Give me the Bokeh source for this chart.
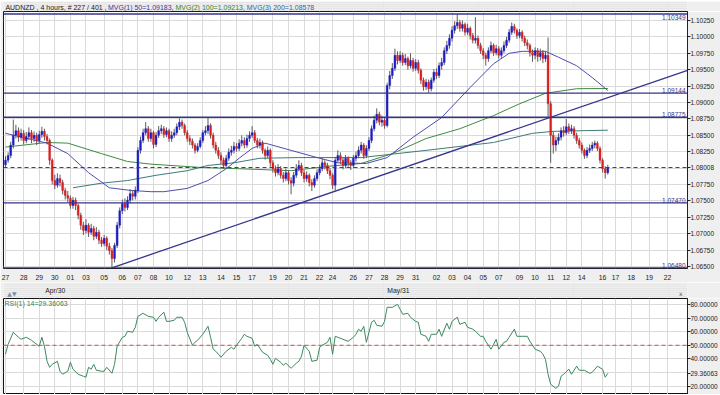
from bokeh.plotting import figure
from bokeh.layouts import column
from bokeh.models import Range1d, FixedTicker, NumeralTickFormatter, Label, Span, ColumnDataSource
from bokeh.core.properties import value
from bokeh.embed import file_html
from bokeh.resources import INLINE

# ---------------- data ----------------
first_open = 1.0805
closes = [
    1.0812, 1.0819, 1.0835, 1.0850, 1.0857, 1.0847, 1.0853, 1.0842, 1.0848, 1.0854,   # 0
    1.0845, 1.0850, 1.0842, 1.0851, 1.0856, 1.0848, 1.0842, 1.0812, 1.0781, 1.0774,   # 10
    1.0784, 1.0778, 1.0766, 1.0758, 1.0754, 1.0743, 1.0751, 1.0743, 1.0728, 1.0713,   # 20
    1.0705, 1.0713, 1.0702, 1.0708, 1.0696, 1.0702, 1.0690, 1.0685, 1.0693, 1.0681,   # 30
    1.0674, 1.0662, 1.0682, 1.0713, 1.0735, 1.0746, 1.0740, 1.0751, 1.0761, 1.0757,   # 40
    1.0766, 1.0827, 1.0842, 1.0854, 1.0860, 1.0845, 1.0854, 1.0836, 1.0850, 1.0857,   # 50
    1.0860, 1.0851, 1.0857, 1.0845, 1.0850, 1.0854, 1.0863, 1.0870, 1.0865, 1.0854,   # 60
    1.0845, 1.0841, 1.0835, 1.0827, 1.0833, 1.0842, 1.0854, 1.0857, 1.0865, 1.0850,   # 70
    1.0835, 1.0827, 1.0819, 1.0812, 1.0804, 1.0815, 1.0824, 1.0827, 1.0833, 1.0830,   # 80
    1.0838, 1.0842, 1.0835, 1.0845, 1.0850, 1.0854, 1.0842, 1.0835, 1.0839, 1.0827,   # 90
    1.0819, 1.0827, 1.0808, 1.0799, 1.0793, 1.0799, 1.0789, 1.0784, 1.0793, 1.0781,   # 100
    1.0777, 1.0789, 1.0799, 1.0804, 1.0793, 1.0784, 1.0789, 1.0778, 1.0774, 1.0784,   # 110
    1.0793, 1.0799, 1.0808, 1.0804, 1.0796, 1.0789, 1.0774, 1.0812, 1.0819, 1.0812,   # 120
    1.0804, 1.0815, 1.0808, 1.0804, 1.0815, 1.0819, 1.0827, 1.0835, 1.0819, 1.0830,   # 130
    1.0842, 1.0860, 1.0873, 1.0882, 1.0870, 1.0873, 1.0865, 1.0926, 1.0941, 1.0952,   # 140
    1.0972, 1.0964, 1.0972, 1.0961, 1.0967, 1.0956, 1.0964, 1.0952, 1.0961, 1.0949,   # 150
    1.0934, 1.0924, 1.0931, 1.0921, 1.0934, 1.0946, 1.0941, 1.0956, 1.0961, 1.0979,   # 160
    1.0987, 1.0998, 1.1010, 1.1017, 1.1022, 1.1013, 1.1019, 1.1007, 1.1013, 1.1002,   # 170
    1.0995, 1.0998, 1.0987, 1.0979, 1.0972, 1.0967, 1.0979, 1.0987, 1.0976, 1.0982,   # 180
    1.0972, 1.0979, 1.0987, 1.0995, 1.1007, 1.1016, 1.1010, 1.1002, 1.1007, 1.0998,   # 190
    1.0991, 1.0987, 1.0976, 1.0972, 1.0979, 1.0970, 1.0976, 1.0967, 1.0972, 1.0898,   # 200
    1.0850, 1.0835, 1.0842, 1.0847, 1.0857, 1.0854, 1.0863, 1.0857, 1.0860, 1.0850,   # 210
    1.0842, 1.0835, 1.0827, 1.0819, 1.0827, 1.0830, 1.0835, 1.0838, 1.0830, 1.0812,   # 220
    1.0799, 1.0793, 1.08008,                                                          # 230
]
highs = [
    1.0818, 1.0824, 1.0840, 1.0874, 1.0866, 1.0862, 1.0860, 1.0858, 1.0855, 1.0862,   # 0
    1.0858, 1.0856, 1.0854, 1.0857, 1.0863, 1.0860, 1.0852, 1.0845, 1.0815, 1.0790,   # 10
    1.0792, 1.0790, 1.0782, 1.0770, 1.0765, 1.0758, 1.0756, 1.0755, 1.0746, 1.0732,   # 20
    1.0718, 1.0722, 1.0716, 1.0715, 1.0712, 1.0710, 1.0706, 1.0695, 1.0698, 1.0696,   # 30
    1.0686, 1.0678, 1.0686, 1.0718, 1.0740, 1.0752, 1.0754, 1.0757, 1.0768, 1.0766,   # 40
    1.0772, 1.0832, 1.0848, 1.0860, 1.0870, 1.0864, 1.0860, 1.0857, 1.0855, 1.0864,   # 50
    1.0866, 1.0864, 1.0862, 1.0860, 1.0856, 1.0860, 1.0868, 1.0876, 1.0874, 1.0868,   # 60
    1.0858, 1.0850, 1.0845, 1.0838, 1.0838, 1.0847, 1.0858, 1.0864, 1.0877, 1.0868,   # 70
    1.0854, 1.0840, 1.0832, 1.0824, 1.0816, 1.0820, 1.0830, 1.0834, 1.0840, 1.0838,   # 80
    1.0844, 1.0850, 1.0847, 1.0851, 1.0856, 1.0864, 1.0858, 1.0846, 1.0845, 1.0842,   # 90
    1.0830, 1.0833, 1.0830, 1.0812, 1.0804, 1.0806, 1.0803, 1.0794, 1.0799, 1.0796,   # 100
    1.0786, 1.0794, 1.0806, 1.0812, 1.0808, 1.0797, 1.0795, 1.0792, 1.0783, 1.0789,   # 110
    1.0798, 1.0805, 1.0815, 1.0812, 1.0808, 1.0800, 1.0792, 1.0817, 1.0827, 1.0824,   # 120
    1.0816, 1.0820, 1.0818, 1.0812, 1.0820, 1.0825, 1.0833, 1.0840, 1.0838, 1.0835,   # 130
    1.0847, 1.0865, 1.0880, 1.0891, 1.0886, 1.0880, 1.0877, 1.0930, 1.0948, 1.0960,   # 140
    1.0982, 1.0978, 1.0978, 1.0976, 1.0974, 1.0970, 1.0975, 1.0968, 1.0966, 1.0965,   # 150
    1.0952, 1.0938, 1.0936, 1.0935, 1.0938, 1.0951, 1.0952, 1.0961, 1.0968, 1.0984,   # 160
    1.0994, 1.1004, 1.1016, 1.1024, 1.10349, 1.1026, 1.1025, 1.1022, 1.1020, 1.1016,  # 170
    1.1006, 1.1030, 1.1002, 1.0991, 1.0983, 1.0976, 1.0984, 1.0993, 1.0990, 1.0988,   # 180
    1.0986, 1.0984, 1.0993, 1.1000, 1.1012, 1.1022, 1.1020, 1.1013, 1.1012, 1.1010,   # 190
    1.1002, 1.0996, 1.0990, 1.0981, 1.0984, 1.0983, 1.0982, 1.0980, 1.0978, 1.0999,   # 200
    1.0902, 1.0856, 1.0848, 1.0853, 1.0862, 1.0864, 1.0875, 1.0868, 1.0866, 1.0864,   # 210
    1.0854, 1.0846, 1.0839, 1.0830, 1.0832, 1.0836, 1.0840, 1.0842, 1.0841, 1.0833,   # 220
    1.0815, 1.0803, 1.0805,                                                           # 230
]
lows = [
    1.0800, 1.0808, 1.0815, 1.0830, 1.0845, 1.0840, 1.0842, 1.0836, 1.0838, 1.0843,   # 0
    1.0838, 1.0840, 1.0835, 1.0838, 1.0846, 1.0842, 1.0836, 1.0805, 1.0775, 1.0768,   # 10
    1.0770, 1.0772, 1.0760, 1.0752, 1.0748, 1.0738, 1.0738, 1.0736, 1.0722, 1.0706,   # 20
    1.0698, 1.0700, 1.0695, 1.0698, 1.0690, 1.0692, 1.0684, 1.0680, 1.0681, 1.0675,   # 30
    1.0668, 1.0648, 1.0656, 1.0678, 1.0708, 1.0730, 1.0734, 1.0736, 1.0746, 1.0751,   # 40
    1.0752, 1.0762, 1.0822, 1.0838, 1.0850, 1.0840, 1.0840, 1.0830, 1.0832, 1.0846,   # 50
    1.0852, 1.0846, 1.0847, 1.0840, 1.0840, 1.0846, 1.0850, 1.0858, 1.0860, 1.0850,   # 60
    1.0840, 1.0835, 1.0830, 1.0822, 1.0824, 1.0830, 1.0838, 1.0850, 1.0852, 1.0845,   # 70
    1.0830, 1.0822, 1.0814, 1.0806, 1.0799, 1.0800, 1.0811, 1.0819, 1.0822, 1.0825,   # 80
    1.0826, 1.0833, 1.0830, 1.0831, 1.0840, 1.0846, 1.0838, 1.0830, 1.0830, 1.0822,   # 90
    1.0813, 1.0815, 1.0802, 1.0793, 1.0787, 1.0789, 1.0784, 1.0778, 1.0780, 1.0775,   # 100
    1.0760, 1.0772, 1.0785, 1.0795, 1.0788, 1.0778, 1.0779, 1.0772, 1.0765, 1.0770,   # 110
    1.0780, 1.0789, 1.0795, 1.0798, 1.0791, 1.0783, 1.0768, 1.0765, 1.0808, 1.0806,   # 120
    1.0798, 1.0800, 1.0802, 1.0797, 1.0800, 1.0810, 1.0815, 1.0822, 1.0814, 1.0815,   # 130
    1.0826, 1.0838, 1.0856, 1.0868, 1.0865, 1.0863, 1.0860, 1.0862, 1.0920, 1.0936,   # 140
    1.0948, 1.0958, 1.0960, 1.0956, 1.0957, 1.0950, 1.0952, 1.0947, 1.0948, 1.0944,   # 150
    1.0928, 1.0918, 1.0919, 1.0915, 1.0917, 1.0930, 1.0936, 1.0937, 1.0950, 1.0957,   # 160
    1.0974, 1.0982, 1.0993, 1.1005, 1.1012, 1.1008, 1.1008, 1.1002, 1.1003, 1.0996,   # 170
    1.0990, 1.0990, 1.0982, 1.0974, 1.0966, 1.0956, 1.0962, 1.0975, 1.0971, 1.0972,   # 180
    1.0967, 1.0968, 1.0975, 1.0983, 1.0991, 1.1003, 1.1005, 1.0997, 1.0998, 1.0993,   # 190
    1.0986, 1.0981, 1.0970, 1.0962, 1.0966, 1.0962, 1.0964, 1.0960, 1.0962, 1.0878,   # 200
    1.0808, 1.0822, 1.0826, 1.0836, 1.0842, 1.0848, 1.0850, 1.0852, 1.0852, 1.0845,   # 210
    1.0837, 1.0830, 1.0822, 1.0814, 1.0815, 1.0823, 1.0826, 1.0830, 1.0826, 1.0807,   # 220
    1.0793, 1.0784, 1.0790,                                                           # 230
]

ma50_idx = [0, 16, 24, 32, 40, 48, 56, 61, 70, 78, 85, 90, 95, 100, 110, 121, 128, 139, 147,
            157, 168, 179, 188, 194, 199, 208, 213, 220, 226, 232]
ma50_val = [1.0853, 1.0838, 1.0822, 1.0793, 1.0770, 1.0766, 1.0764, 1.0764, 1.0769, 1.0781,
            1.0799, 1.0815, 1.0830, 1.0838, 1.0827, 1.0815, 1.0808, 1.0807, 1.0816, 1.0847,
            1.0877, 1.0923, 1.0959, 1.0975, 1.0978, 1.0978, 1.0969, 1.0956, 1.0938, 1.09183]
ma100_idx = [0, 16, 24, 37, 47, 56, 75, 90, 110, 125, 137, 149, 162, 175, 188, 198, 208, 220, 232]
ma100_val = [1.0832, 1.0839, 1.0838, 1.0822, 1.0810, 1.0806, 1.0801, 1.0799, 1.0796, 1.0803,
             1.0807, 1.0822, 1.0845, 1.0860, 1.0880, 1.0898, 1.0914, 1.0921, 1.09213]
ma200_idx = [26, 37, 47, 58, 70, 78, 88, 98, 113, 137, 162, 188, 203, 211, 232]
ma200_val = [1.0770, 1.0777, 1.0781, 1.0789, 1.0796, 1.0804, 1.0808, 1.0815, 1.0816, 1.0816,
             1.0827, 1.0839, 1.0853, 1.0856, 1.08578]

rsi_idx = [0, 1, 3, 5, 6, 8, 10, 11, 13, 14, 15, 16, 17, 18, 20, 21, 22, 24, 25, 26,
           28, 30, 31, 32, 33, 34, 35, 37, 38, 39, 41, 42, 43, 45, 46, 47, 49, 50, 51, 53,
           55, 57, 58, 59, 61, 62, 63, 65, 66, 68, 69, 70, 72, 73, 74, 76, 77, 78, 79, 80,
           81, 82, 83, 85, 87, 88, 89, 91, 92, 93, 95, 96, 97, 99, 101, 102, 103, 104, 106, 107,
           108, 110, 112, 113, 114, 115, 117, 118, 120, 121, 122, 124, 125, 126, 127, 128, 130, 132, 134, 135,
           136, 137, 138, 139, 141, 142, 143, 145, 146, 147, 149, 151, 152, 153, 155, 156, 158, 159, 160, 162,
           163, 164, 166, 167, 168, 170, 171, 172, 174, 175, 177, 178, 180, 181, 183, 184, 185, 187, 188, 189,
           190, 192, 193, 194, 196, 197, 199, 201, 202, 204, 206, 207, 208, 209, 210, 212, 213, 214, 215, 217,
           218, 220, 221, 223, 225, 226, 228, 230, 231, 232]
rsi_val = [43.4, 50.7, 59.6, 55.9, 54.4, 55.9, 53.7, 52.2, 49.3, 55.9,
           49.3, 38.2, 33.8, 36.0, 38.2, 30.9, 28.7, 30.9, 37.5, 32.4,
           28.7, 27.2, 26.5, 33.8, 32.4, 36.0, 31.6, 30.9, 30.9, 33.8,
           29.4, 36.0, 49.3, 55.9, 56.6, 60.3, 59.6, 63.2, 71.3, 73.5,
           71.3, 70.6, 67.6, 70.6, 74.3, 67.6, 67.6, 68.4, 70.6, 70.6,
           66.9, 59.6, 50.0, 52.2, 53.7, 58.1, 61.0, 64.0, 55.9, 47.1,
           45.6, 43.4, 41.2, 45.6, 48.5, 47.1, 50.0, 55.1, 58.1, 56.6,
           55.1, 49.3, 50.7, 44.9, 42.6, 39.7, 36.0, 40.4, 37.5, 35.3,
           36.8, 33.1, 36.8, 38.2, 41.9, 50.0, 45.6, 38.2, 39.0, 48.5,
           50.0, 52.2, 55.9, 43.4, 56.6, 55.9, 54.4, 52.9, 55.9, 58.1,
           61.8, 60.3, 64.0, 52.2, 66.9, 68.4, 64.7, 64.0, 67.6, 77.9,
           77.9, 80.1, 76.5, 72.8, 73.5, 70.6, 67.6, 66.9, 58.1, 56.6,
           52.9, 58.1, 58.1, 61.8, 56.6, 66.2, 61.8, 67.6, 70.6, 65.4,
           66.9, 63.2, 61.8, 60.3, 56.6, 56.6, 52.9, 47.1, 50.7, 54.4,
           47.1, 52.2, 52.9, 55.9, 61.8, 56.6, 56.6, 56.6, 52.9, 47.1,
           45.6, 43.4, 39.7, 28.7, 21.3, 18.4, 19.9, 27.2, 28.7, 32.4,
           28.7, 34.6, 31.6, 31.6, 29.4, 30.1, 34.6, 32.4, 26.5, 29.36063]

date_pos = [0, 7, 13, 19, 25, 31, 38, 45, 51, 57, 63, 70, 76, 83, 89, 95, 103, 109, 115, 121,
            126, 134, 140, 146, 152, 158, 166, 172, 178, 184, 190, 198, 204, 210, 216, 222, 230, 235, 241, 248, 255]
date_lbl = ["27", "28", "29", "30", "01", "03", "05", "06", "07", "08", "10", "12", "13", "14", "15", "17",
            "19", "20", "21", "22", "24", "26", "27", "28", "29", "31", "02", "03", "04", "05", "07", "09",
            "10", "11", "12", "14", "16", "17", "18", "19", "22"]
month_pos = [19, 158]
month_lbl = ["Apr/30", "May/31"]

price_ticks = [1.0650, 1.0675, 1.0700, 1.0725, 1.0750, 1.0775, 1.0800, 1.0825,
               1.0850, 1.0875, 1.0900, 1.0925, 1.0950, 1.0975, 1.1000, 1.1025]
levels = [1.10349, 1.09144, 1.08775, 1.07470, 1.06480]
trend_idx = [41, 262.7]
trend_val = [1.06480, 1.09490]
last_price = 1.08008
rsi_ticks = [20, 30, 40, 50, 60, 70, 80]
rsi_mid = 50
rsi_last = 29.36063

header_parts = ["AUDNZD , 4 hours, # 227 / 401 ,", "MVG(1) 50=1.09183,",
                "MVG(2) 100=1.09213,", "MVG(3) 200=1.08578"]
header_colors = ["#222222", "#3535b0", "#2f8a2f", "#3a5fb0"]

assert len(closes) == len(highs) == len(lows)
assert len(rsi_idx) == len(rsi_val)

# ---------------- styling / layout ----------------
FONT = "Liberation Sans"
BG = "#efefef"
NAVY = "#35358c"
W = 720
HDR_H = 11
LB, RB = 3, 32            # frame borders left / right (px)
FW = W - LB - RB          # frame width
X0, X1 = -0.77, 262.7
XR = Range1d(X0, X1)
YLO, YHI = 1.06469, 1.10387
RLO, RHI = 13.8, 84.4

opens = [first_open] + closes[:-1]
idx = list(range(len(closes)))
tops = [max(o, c) for o, c in zip(opens, closes)]
bots = [min(o, c) for o, c in zip(opens, closes)]
cols = ["#1c1cc4" if c >= o else "#d91e1e" for o, c in zip(opens, closes)]
src = ColumnDataSource(dict(x=idx, h=highs, l=lows, top=tops, bot=bots, col=cols))


def to_px(bar):
    return LB + (bar - X0) / (X1 - X0) * FW


def style_y(ax, ticks):
    ax.ticker = FixedTicker(ticks=ticks)
    ax.formatter = NumeralTickFormatter(format="0.00000")
    ax.major_label_text_font_size = "6.5px"
    ax.major_label_text_font = FONT
    ax.major_label_text_color = "#222222"
    ax.major_tick_out = 3
    ax.major_tick_in = 0
    ax.minor_tick_line_color = None
    ax.axis_line_color = "#222222"
    ax.major_tick_line_color = "#222222"
    ax.major_label_standoff = 0


def strip(height):
    s = figure(width=W, height=height, x_range=Range1d(0, W), y_range=Range1d(0, height),
               output_backend="svg", toolbar_location=None, x_axis_location=None,
               y_axis_location=None, min_border=0)
    s.outline_line_color = None
    s.background_fill_color = BG
    s.border_fill_color = BG
    return s


# ---------------- header strip ----------------
hdr = strip(HDR_H)
hdr.text(x=[2, 110, 181, 256], y=[HDR_H / 2] * 4, text=header_parts, text_color=header_colors,
         text_font=value(FONT), text_font_size="7px", text_baseline="middle")

# ---------------- main price panel ----------------
p = figure(width=W, height=271, x_range=XR, y_range=Range1d(YLO, YHI),
           output_backend="svg", toolbar_location=None, y_axis_location="right",
           min_border_left=LB, min_border_right=RB, min_border_top=0, min_border_bottom=14)
p.background_fill_color = "white"
p.border_fill_color = BG
p.outline_line_color = "#1a1a1a"
p.outline_line_width = 1
p.xgrid.ticker = FixedTicker(ticks=date_pos)
p.ygrid.ticker = FixedTicker(ticks=price_ticks)
p.grid.grid_line_color = "#dadada"
# the current-price tag replaces the nearest round tick label, as in the terminal
style_y(p.yaxis[0], [t for t in price_ticks if abs(t - last_price) > 0.001] + [last_price])
p.yaxis[0].major_label_overrides = {last_price: f"{last_price:.5f}"}

xa = p.xaxis[0]
xa.ticker = FixedTicker(ticks=date_pos)
xa.major_label_overrides = {pos: lab for pos, lab in zip(date_pos, date_lbl)}
xa.major_tick_line_color = None
xa.minor_tick_line_color = None
xa.major_tick_out = 0
xa.major_tick_in = 0
xa.axis_line_color = None
xa.major_label_standoff = 6
xa.major_label_text_font_size = "6.8px"
xa.major_label_text_font = FONT
xa.major_label_text_color = "#222222"

# horizontal levels (the top one is labelled under its line so it stays inside the frame)
for lv in levels:
    p.add_layout(Span(location=lv, dimension="width", line_color=NAVY, line_width=1.3))
    top_level = lv == max(levels)
    p.add_layout(Label(x=X1, y=lv, x_offset=-2, y_offset=-1 if top_level else 0,
                       text=f"{lv:.5f}", text_align="right",
                       text_baseline="top" if top_level else "bottom",
                       text_font_size="6.5px", text_font=FONT, text_color=NAVY))

# moving averages
p.line(ma200_idx, ma200_val, line_color="#3f7a78", line_width=1)
p.line(ma100_idx, ma100_val, line_color="#3f8a3f", line_width=1)
p.line(ma50_idx, ma50_val, line_color="#4d4db0", line_width=1)

# trend line
p.line(trend_idx, trend_val, line_color=NAVY, line_width=1.3)

# candles
p.segment(x0="x", y0="l", x1="x", y1="h", source=src, line_color="#5c5c5c", line_width=1)
p.vbar(x="x", width=0.72, top="top", bottom="bot", source=src,
       fill_color="col", line_color="col", line_width=0.4)

# current price
p.add_layout(Span(location=last_price, dimension="width", line_color=NAVY,
                  line_dash="4 3", line_width=1))

# ---------------- band between panels ----------------
band = strip(16)
band.text(x=[to_px(m) for m in month_pos], y=[8, 8], text=month_lbl, text_color="#222222",
          text_font=value(FONT), text_font_size="6.8px", text_align="center",
          text_baseline="middle")
band.text(x=[4, 711], y=[5, 5], text=["\u25b2\u25bc", "x"], text_color=["#8090a8", "#555555"],
          text_font=value("DejaVu Sans"), text_font_size="6px", text_baseline="middle")

# ---------------- RSI panel ----------------
r = figure(width=W, height=96, x_range=XR, y_range=Range1d(RLO, RHI),
           output_backend="svg", toolbar_location=None, x_axis_location=None,
           y_axis_location="right", min_border_left=LB, min_border_right=RB,
           min_border_top=0, min_border_bottom=0)
r.background_fill_color = "white"
r.border_fill_color = BG
r.outline_line_color = "#111111"
r.outline_line_width = 1
r.xgrid.ticker = FixedTicker(ticks=date_pos)
r.ygrid.ticker = FixedTicker(ticks=rsi_ticks)
r.grid.grid_line_color = "#dadada"
style_y(r.yaxis[0], [t for t in rsi_ticks if abs(t - rsi_last) > 2] + [rsi_last])
r.yaxis[0].major_label_overrides = {rsi_last: f"{rsi_last:.5f}"}

r.add_layout(Span(location=rsi_mid, dimension="width", line_color="#d05050",
                  line_dash="4 3", line_width=1))
r.line(rsi_idx, rsi_val, line_color="#3a8a5e", line_width=1)

r.add_layout(Label(x=X0, y=RHI, x_offset=1, y_offset=-1, text="RSI(1) 14=29.36063",
                   text_baseline="top", text_font_size="7px", text_font=FONT,
                   text_color="#2f8a5a"))

layout = column(hdr, p, band, r, spacing=0)
open("out.html", "w").write(file_html(layout, INLINE))
